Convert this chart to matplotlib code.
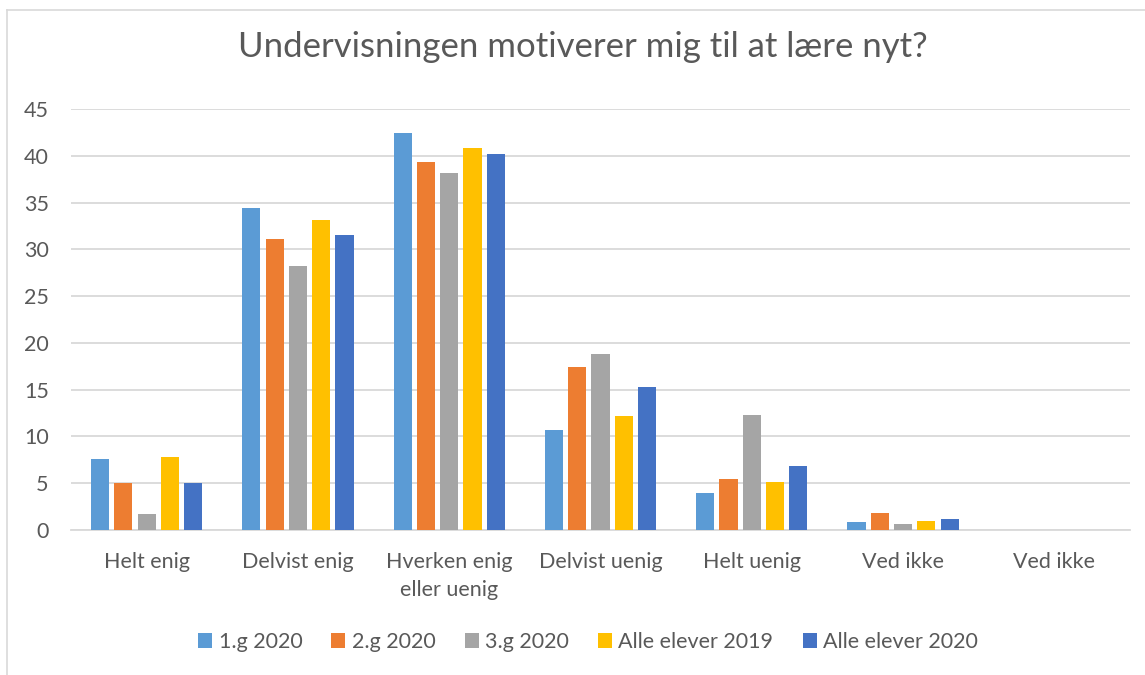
import matplotlib
matplotlib.use("Agg")
import matplotlib.pyplot as plt
import numpy as np
from matplotlib.lines import Line2D
from matplotlib.patches import Patch

plt.rcParams['font.family'] = ['Lato', 'DejaVu Sans']

title = "Undervisningen motiverer mig til at lære nyt?"
categories = ["Helt enig", "Delvist enig", "Hverken enig\neller uenig",
              "Delvist uenig", "Helt uenig", "Ved ikke", "Ved ikke"]
series_names = ["1.g 2020", "2.g 2020", "3.g 2020", "Alle elever 2019", "Alle elever 2020"]
g1_2020 = [7.6, 34.4, 42.4, 10.7, 4.0, 0.9, 0]
g2_2020 = [5.0, 31.1, 39.3, 17.4, 5.5, 1.8, 0]
g3_2020 = [1.7, 28.2, 38.2, 18.8, 12.3, 0.6, 0]
alle_2019 = [7.8, 33.1, 40.8, 12.2, 5.1, 0.95, 0]
alle_2020 = [5.0, 31.5, 40.2, 15.3, 6.8, 1.15, 0]
yticks = [0, 5, 10, 15, 20, 25, 30, 35, 40, 45]

series = [g1_2020, g2_2020, g3_2020, alle_2019, alle_2020]
colors = ["#5B9BD5", "#ED7D31", "#A5A5A5", "#FFC000", "#4472C4"]
text_color = "#595959"
grid_color = "#D9D9D9"

W, H = 1145, 675
fig = plt.figure(figsize=(W / 100, H / 100), dpi=100)
ax = fig.add_axes([71 / W, 1 - 530 / H, (1130 - 71) / W, (530 - 109) / H])

x = np.arange(len(categories))
pitch = 0.154
bw = 0.12
for i, (vals, c) in enumerate(zip(series, colors)):
    offs = (i - 2) * pitch
    ax.bar(x + offs, vals, width=bw, color=c, zorder=3, label=series_names[i])

ax.set_xlim(-0.5, len(categories) - 0.5)
ax.set_ylim(0, 45)
ax.set_yticks(yticks)
ax.set_yticklabels([str(t) for t in yticks])
ax.set_xticks(x)
ax.set_xticklabels(categories, linespacing=1.5)
ax.tick_params(axis='both', length=0, colors=text_color, labelsize=15.5)
ax.tick_params(axis='y', pad=16)
ax.tick_params(axis='x', pad=16)
ax.grid(axis='y', color=grid_color, linewidth=1.3, zorder=0)
for s in ["top", "right", "left"]:
    ax.spines[s].set_visible(False)
ax.spines["bottom"].set_color(grid_color)
ax.spines["bottom"].set_linewidth(1.3)

fig.text(0.5 * (240 + 925) / W, 1 - 47 / H, title, ha='center', va='center',
         fontsize=25, color=text_color)

handles = [Patch(facecolor=c, edgecolor='none') for c in colors]
fig.legend(handles, series_names, loc='center', bbox_to_anchor=(588 / W, 1 - 642 / H),
           ncol=5, frameon=False, fontsize=15.5, handlelength=0.65, handleheight=0.65,
           handletextpad=0.3, columnspacing=1.35, labelcolor=text_color)

# chart border (top and left visible)
fig.add_artist(Line2D([7 / W, 1.0], [1 - 10 / H, 1 - 10 / H], color=grid_color, lw=1.2,
                      transform=fig.transFigure))
fig.add_artist(Line2D([7 / W, 7 / W], [0, 1 - 10 / H], color=grid_color, lw=1.2,
                      transform=fig.transFigure))

fig.savefig("out.png", dpi=100)
